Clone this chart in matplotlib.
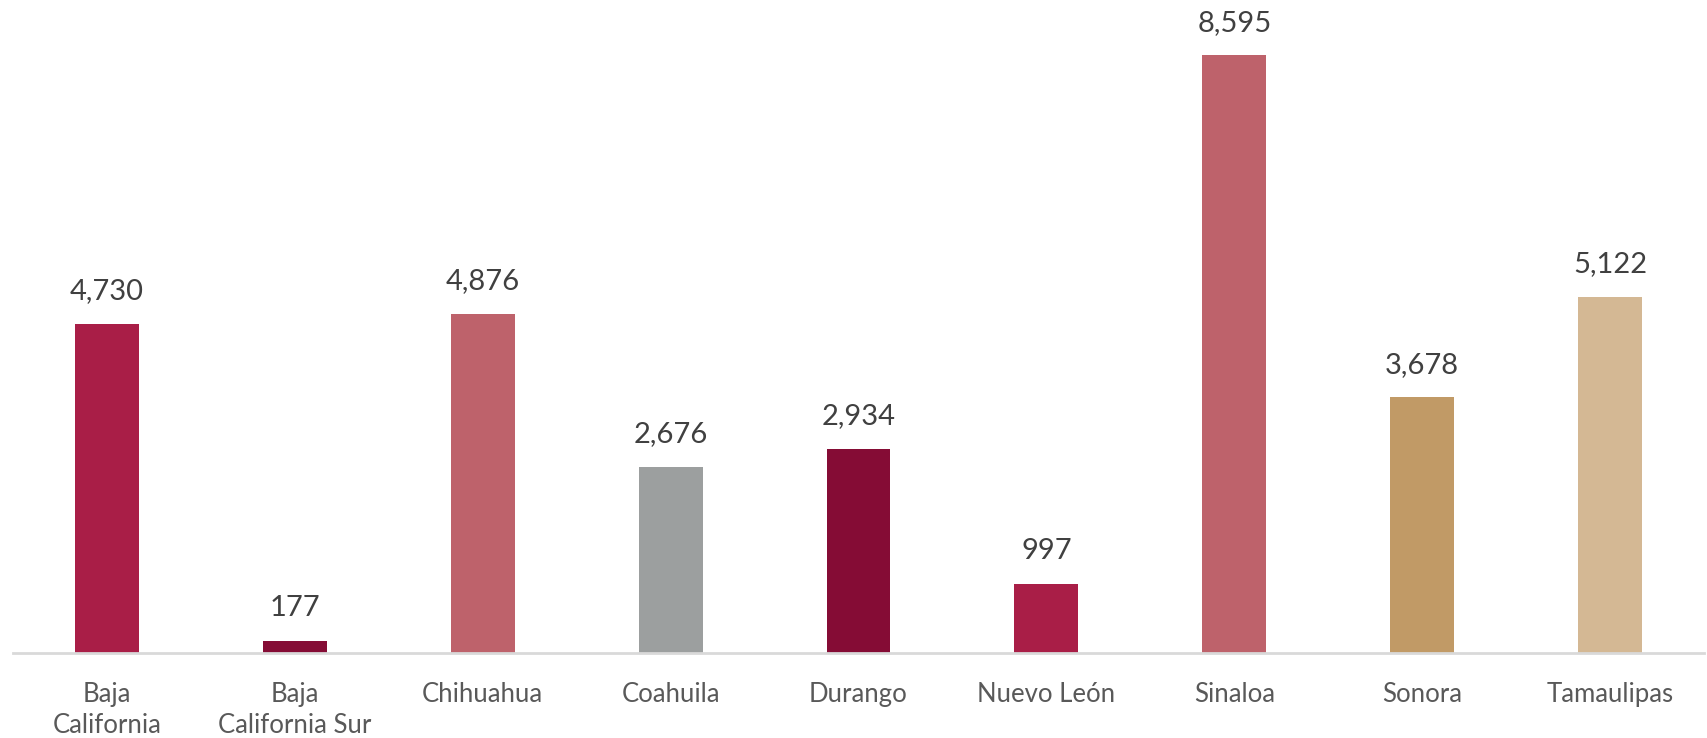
import matplotlib
matplotlib.use('Agg')
import matplotlib.pyplot as plt

estados = ['Baja\nCalifornia', 'Baja\nCalifornia Sur', 'Chihuahua', 'Coahuila', 'Durango',
           'Nuevo León', 'Sinaloa', 'Sonora', 'Tamaulipas']
valores = [4730, 177, 4876, 2676, 2934, 997, 8595, 3678, 5122]
colores = ['#A91E47', '#850C35', '#BE626B', '#9C9F9F', '#850C35',
           '#A91E47', '#BE626B', '#C19A66', '#D4B894']

plt.rcParams['font.family'] = ['Lato', 'DejaVu Sans']

fig = plt.figure(figsize=(17.08, 7.38), dpi=100)
ax = fig.add_axes([13/1708, 85/738, 1691/1708, 653/738])

x = range(len(estados))
bars = ax.bar(x, valores, width=0.34, color=colores)

for xi, v in zip(x, valores):
    ax.annotate(f'{v:,}', (xi, v), xytext=(0, 14), textcoords='offset points',
                ha='center', va='bottom', fontsize=21, color='#404040')

ax.set_xlim(-0.5, len(estados) - 0.5)
ax.set_ylim(0, 9386)
ax.set_xticks(list(x))
ax.set_xticklabels(estados, fontsize=18.5, color='#595959', linespacing=1.3)
ax.tick_params(axis='x', length=0, pad=21)
ax.set_yticks([])
for s in ['top', 'right', 'left']:
    ax.spines[s].set_visible(False)
ax.spines['bottom'].set_color('#D9D9D9')
ax.spines['bottom'].set_linewidth(2)

plt.savefig('out.png', dpi=100)
